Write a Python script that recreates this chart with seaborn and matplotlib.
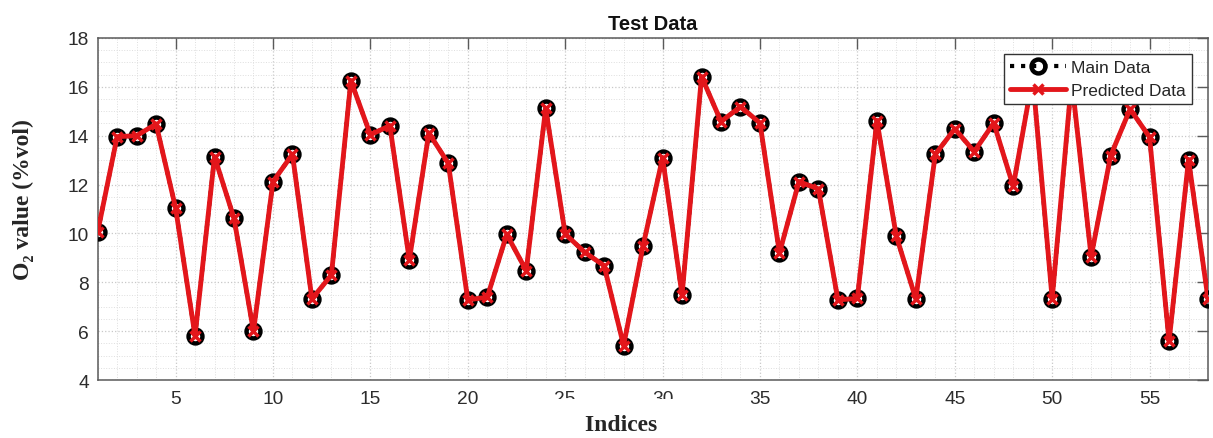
import matplotlib
matplotlib.use("Agg")
import matplotlib.pyplot as plt
from matplotlib.ticker import MultipleLocator
import numpy as np
import seaborn as sns

# Sample indices and O2 measurements
indices = list(range(1, 59))
main_data = [10.05, 13.96, 14.00, 14.48, 11.05, 5.81, 13.14, 10.62, 5.99, 12.12,
             13.24, 7.32, 8.30, 16.25, 14.04, 14.41, 8.91, 14.11, 12.87, 7.28,
             7.39, 9.96, 8.48, 15.12, 9.98, 9.23, 8.68, 5.41, 9.50, 13.10,
             7.48, 16.42, 14.58, 15.19, 14.52, 9.20, 12.12, 11.82, 7.28, 7.34,
             14.62, 9.88, 7.32, 13.24, 14.28, 13.35, 14.52, 11.93, 16.40, 7.32,
             16.30, 9.05, 13.18, 15.09, 13.94, 5.58, 13.02, 7.32]
predicted_data = [10.05, 13.96, 14.00, 14.48, 11.05, 5.81, 13.14, 10.62, 5.99, 12.12,
                  13.24, 7.32, 8.30, 16.25, 14.04, 14.41, 8.91, 14.11, 12.87, 7.28,
                  7.39, 9.96, 8.48, 15.12, 9.98, 9.23, 8.68, 5.41, 9.50, 13.10,
                  7.48, 16.42, 14.58, 15.19, 14.52, 9.20, 12.12, 11.82, 7.28, 7.34,
                  14.62, 9.88, 7.32, 13.24, 14.28, 13.35, 14.52, 11.93, 16.40, 7.32,
                  16.30, 9.05, 13.18, 15.09, 13.94, 5.58, 13.02, 7.32]
x_ticks = [5, 10, 15, 20, 25, 30, 35, 40, 45, 50, 55]
y_ticks = [4, 6, 8, 10, 12, 14, 16, 18]

sns.set_style("white")
plt.rcParams["font.family"] = ["Liberation Sans", "DejaVu Sans"]

fig = plt.figure(figsize=(12.13, 4.39), dpi=100)
ax = fig.add_axes([0.0805, 0.1321, 0.9154, 0.7791])

red = "#e3161b"
sns.lineplot(x=indices, y=main_data, ax=ax, color="black", linestyle=":",
             linewidth=3, marker="o", markersize=10, markerfacecolor="none",
             markeredgecolor="black", markeredgewidth=3.2, label="Main Data",
             zorder=3)
sns.lineplot(x=indices, y=predicted_data, ax=ax, color=red, linestyle="-",
             linewidth=3.5, marker="x", markersize=7, markeredgecolor=red,
             markeredgewidth=2.5, label="Predicted Data", zorder=4)

ax.set_xlim(1, 58)
ax.set_ylim(4, 18)
ax.set_xticks(x_ticks)
ax.set_yticks(y_ticks)
ax.xaxis.set_minor_locator(MultipleLocator(1))
ax.yaxis.set_minor_locator(MultipleLocator(0.5))

axis_gray = "#5a5a5a"
for sp in ax.spines.values():
    sp.set_visible(True)
    sp.set_color(axis_gray)
    sp.set_linewidth(1.1)
ax.tick_params(which="major", direction="in", length=8, width=1,
               color=axis_gray, top=True, right=True, labelsize=13.8,
               labelcolor="#2c2c2c")
ax.tick_params(which="minor", length=0, top=True, right=True)
ax.tick_params(axis="x", which="major", pad=7.5)
ax.tick_params(axis="y", which="major", pad=6.3)

ax.set_axisbelow(True)
ax.grid(which="major", color="#c8c8c8", linestyle=":", linewidth=0.9)
ax.grid(which="minor", color="#dedede", linestyle=":", linewidth=0.7)

ax.set_title("Test Data", fontsize=14.5, fontweight="bold", pad=6.5,
             color="#111111")

label_font = dict(family=["Liberation Serif", "DejaVu Serif"],
                  fontweight="bold", fontsize=17)
pad_spaces = "\u00a0" * 8
ax.set_xlabel(pad_spaces + "Indices" + pad_spaces, **label_font,
              bbox=dict(facecolor="white", edgecolor="none",
                        boxstyle="square,pad=0.6"))
ax.xaxis.set_label_coords(0.4713, -0.098)
ax.set_ylabel("O\u2082 value (%vol)", **label_font)
ax.yaxis.set_label_coords(-0.057, 0.53)

leg = ax.legend(loc="upper right", bbox_to_anchor=(0.9856, 0.953),
                borderaxespad=0, frameon=True, fancybox=False,
                edgecolor="#333333", framealpha=1, fontsize=12.5,
                handlelength=3.2, handletextpad=0.3, borderpad=0.35,
                labelspacing=0.42)
leg.get_frame().set_linewidth(1.0)

fig.savefig("out.png", dpi=100, facecolor="white")
